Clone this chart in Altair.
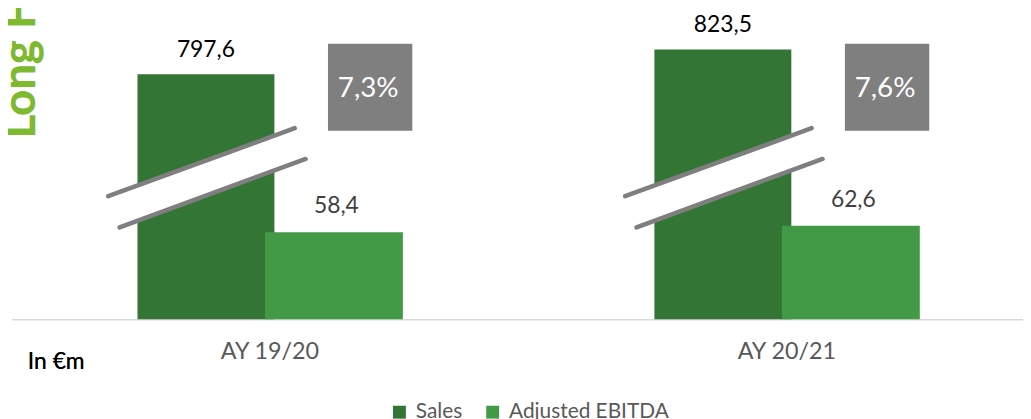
import altair as alt
import pandas as pd

years = ["AY 19/20", "AY 20/21"]
sales = [797.6, 823.5]
ebitda = [58.4, 62.6]
series_names = ["Sales", "Adjusted EBITDA"]
series_colors = ["#337535", "#439a46"]

def de(v, nd=1):
    return f"{v:.{nd}f}".replace(".", ",")

df = pd.DataFrame({
    "year": years,
    "sales": sales,
    "ebitda": ebitda,
    "sales_label": [de(v) for v in sales],
    "ebitda_label": [de(v) for v in ebitda],
    "margin_label": [de(e / s * 100) + "%" for s, e in zip(sales, ebitda)],
    "s_name": [series_names[0]] * len(years),
    "e_name": [series_names[1]] * len(years),
})

FONT = "Lato"
base = alt.Chart(df)
xenc = alt.X("year:N", sort=years, title=None,
             scale=alt.Scale(domain=years, range=[3.5, 1045.5], paddingInner=0, paddingOuter=0),
             axis=alt.Axis(labelFontSize=23.5, labelColor="#595959", labelFont=FONT, ticks=False,
                           domainColor="#d9d9d9", domainWidth=1.5, labelPadding=21,
                           labelAngle=0, grid=False, labelLimit=300))
color_scale = alt.Scale(domain=series_names, range=series_colors)
legend = alt.Legend(orient="none", legendX=384, legendY=395, direction="horizontal",
                    title=None, symbolType="square", symbolSize=169, symbolStrokeWidth=0,
                    labelFontSize=21, labelColor="#595959", labelFont=FONT,
                    labelOffset=6, columnPadding=20, labelLimit=400)

s_scale = alt.Scale(domain=[542, 865.2], zero=False, nice=False)
sales_bar = base.mark_bar(width=138, xOffset=-64.5).encode(
    x=xenc,
    y=alt.Y("sales:Q", scale=s_scale, axis=None),
    y2=alt.datum(542),
    color=alt.Color("s_name:N", scale=color_scale, legend=legend),
)
sales_txt = base.mark_text(xOffset=-64.5, dy=-17.5, baseline="alphabetic", fontSize=23,
                           color="#000000", font=FONT).encode(
    x=xenc, y=alt.Y("sales:Q", scale=s_scale, axis=None), text="sales_label:N")
sales_layer = alt.layer(sales_bar, sales_txt)

e_scale = alt.Scale(domain=[0, 207.7], nice=False)
ebitda_bar = base.mark_bar(width=139, xOffset=64.5).encode(
    x=xenc,
    y=alt.Y("ebitda:Q", scale=e_scale, axis=None),
    color=alt.Color("e_name:N", scale=color_scale, legend=legend),
)
ebitda_txt = base.mark_text(xOffset=67, dy=-19, baseline="alphabetic", fontSize=23,
                            color="#404040", font=FONT).encode(
    x=xenc, y=alt.Y("ebitda:Q", scale=e_scale, axis=None), text="ebitda_label:N")
ebitda_layer = alt.layer(ebitda_bar, ebitda_txt)

# axis break marks
white_band = base.mark_rule(color="white", strokeWidth=31, strokeCap="butt",
                            xOffset=-157.25, x2Offset=30.5).encode(
    x=xenc, x2=alt.X2("year"), y=alt.value(203.75), y2=alt.value(135))
line_up = base.mark_rule(color="#7f7f7f", strokeWidth=4.5, strokeCap="round",
                         xOffset=-163, x2Offset=25).encode(
    x=xenc, x2=alt.X2("year"), y=alt.value(188), y2=alt.value(119.5))
line_lo = base.mark_rule(color="#7f7f7f", strokeWidth=4.5, strokeCap="round",
                         xOffset=-151.5, x2Offset=36).encode(
    x=xenc, x2=alt.X2("year"), y=alt.value(219.5), y2=alt.value(150.5))

# margin boxes
box = base.mark_bar(width=85, xOffset=101, color="#7f7f7f").encode(
    x=xenc, y=alt.value(34.3), y2=alt.value(122))
box_txt = base.mark_text(xOffset=99, fontSize=28, color="white", baseline="middle",
                         font=FONT).encode(x=xenc, y=alt.value(80), text="margin_label:N")

unit_txt = base.mark_text(align="left", baseline="alphabetic", fontSize=23, color="#000000",
                          font=FONT).encode(x=alt.value(20), y=alt.value(362),
                                            text=alt.datum("In €m"))
title_txt = base.mark_text(angle=270, align="left", baseline="alphabetic", fontSize=46,
                           fontWeight="bold", color="#7dba30", font=FONT).encode(
    x=alt.value(27), y=alt.value(130), text=alt.datum("Long Fr"))

chart = alt.layer(
    sales_layer, ebitda_layer, white_band, line_up, line_lo, box, box_txt, unit_txt, title_txt
).resolve_scale(y="independent").properties(
    width=1023, height=312,
    autosize=alt.AutoSizeParams(type="none"),
    padding={"left": 0, "top": 0, "right": 0, "bottom": 99},
).configure(font=FONT).configure_view(stroke=None)

chart.save("out.html", embed_options={"renderer": "svg", "actions": False})
